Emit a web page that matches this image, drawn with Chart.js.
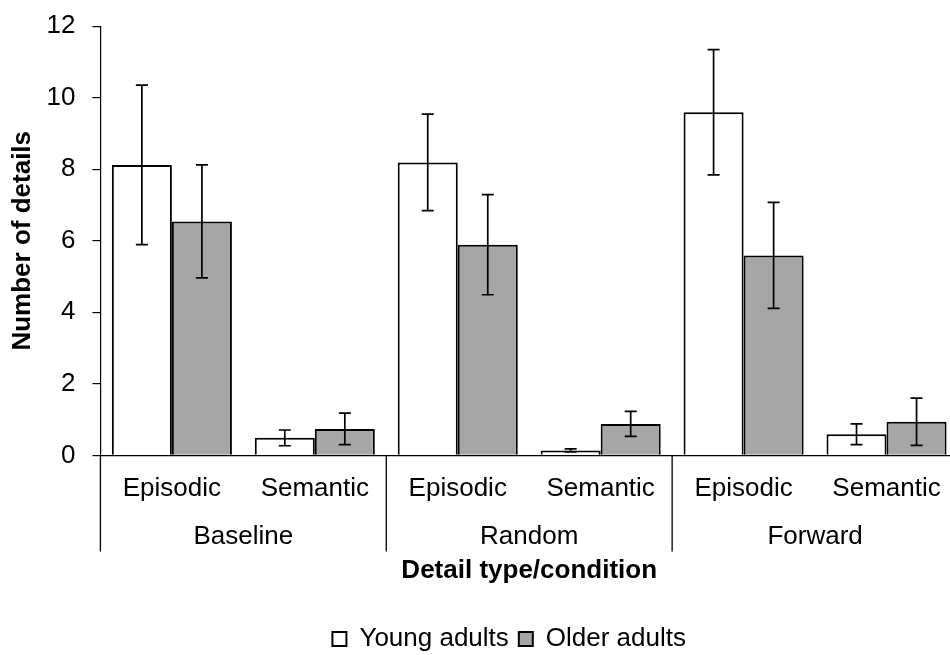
<!DOCTYPE html>
<html>
<head>
<meta charset="utf-8">
<script src="https://cdn.jsdelivr.net/npm/chart.js@4.4.1/dist/chart.umd.min.js"></script>
<style>
  html, body { margin: 0; padding: 0; overflow: hidden; background: #fff; }
  #wrap { width: 960px; height: 655px; }
</style>
</head>
<body>
<div id="wrap"><canvas id="myChart"></canvas></div>
<script>
const detailTypes = ["Episodic", "Semantic", "Episodic", "Semantic", "Episodic", "Semantic"];
const conditions = ["Baseline", "Random", "Forward"];
const youngMeans = [8.12, 0.49, 8.19, 0.14, 9.59, 0.59];
const youngErrors = [2.23, 0.22, 1.35, 0.04, 1.75, 0.29];
const olderMeans = [6.54, 0.74, 5.89, 0.88, 5.59, 0.94];
const olderErrors = [1.58, 0.44, 1.40, 0.35, 1.48, 0.66];
const yTicks = [0, 2, 4, 6, 8, 10, 12];

Chart.defaults.font.family = "'Liberation Sans', Arial, sans-serif";
Chart.defaults.font.size = 26;
Chart.defaults.color = "#000";

// error bars drawn from the y scale
const errorBars = {
  id: "errorBars",
  afterDatasetsDraw(chart) {
    const ctx = chart.ctx;
    const y = chart.scales.y;
    chart.data.datasets.forEach(function (ds, d) {
      chart.getDatasetMeta(d).data.forEach(function (bar, i) {
        const top = y.getPixelForValue(ds.data[i] + ds.errors[i]);
        const bottom = y.getPixelForValue(ds.data[i] - ds.errors[i]);
        ctx.save();
        ctx.strokeStyle = "#000";
        ctx.lineWidth = 1.7;
        ctx.beginPath();
        ctx.moveTo(bar.x, top); ctx.lineTo(bar.x, bottom);
        ctx.moveTo(bar.x - 6, top); ctx.lineTo(bar.x + 6, top);
        ctx.moveTo(bar.x - 6, bottom); ctx.lineTo(bar.x + 6, bottom);
        ctx.stroke();
        ctx.restore();
      });
    });
  }
};

// vertical lines between the condition groups, under the axis
const groupLines = {
  id: "groupLines",
  afterLayout(chart) {
    chart.legend.left -= 20;
    chart.legend.right -= 20;
  },
  afterDraw(chart) {
    const ctx = chart.ctx;
    const x = chart.scales.x;
    const step = x.getPixelForValue(1) - x.getPixelForValue(0);
    const perGroup = detailTypes.length / conditions.length;
    ctx.save();
    ctx.strokeStyle = "#000";
    ctx.lineWidth = 1.3;
    ctx.beginPath();
    for (let g = 0; g <= conditions.length; g++) {
      const px = x.getPixelForValue(g * perGroup) - step / 2;
      ctx.moveTo(px, chart.chartArea.bottom);
      ctx.lineTo(px, chart.chartArea.bottom + 96);
    }
    ctx.stroke();
    ctx.restore();
  }
};

new Chart("myChart", {
  type: "bar",
  data: {
    labels: detailTypes,
    datasets: [{
      label: "Young adults",
      data: youngMeans,
      errors: youngErrors,
      backgroundColor: "#ffffff",
      borderColor: "#000",
      borderWidth: 2
    }, {
      label: "Older adults",
      data: olderMeans,
      errors: olderErrors,
      backgroundColor: "#a6a6a6",
      borderColor: "#000",
      borderWidth: 2
    }]
  },
  options: {
    responsive: true,
    maintainAspectRatio: false,
    animation: false,
    layout: { padding: { top: 26, left: 0, right: 2, bottom: -7 } },
    datasets: { bar: { categoryPercentage: 0.84, barPercentage: 1.0 } },
    plugins: {
      legend: {
        position: "bottom",
        fullSize: false,
        labels: { boxWidth: 14, boxHeight: 14, padding: 10, font: { size: 26 } }
      },
      tooltip: { enabled: false }
    },
    scales: {
      x: {
        grid: { display: false, drawTicks: false },
        border: { display: true, color: "#000", width: 1.2 },
        ticks: { padding: 18, maxRotation: 0, autoSkip: false }
      },
      x2: {
        type: "category",
        position: "bottom",
        labels: conditions,
        offset: true,
        weight: 1,
        grid: { display: false, drawTicks: false },
        border: { display: false },
        ticks: { padding: -1, maxRotation: 0 },
        title: {
          display: true,
          text: "Detail type/condition",
          font: { size: 26, weight: "bold" },
          padding: { top: 3, bottom: 30 }
        }
      },
      y: {
        min: 0,
        max: 12,
        afterBuildTicks(scale) { scale.ticks = yTicks.map(v => ({ value: v })); },
        grid: { drawOnChartArea: false, tickLength: 8, color: "#000", lineWidth: 1.2 },
        border: { display: true, color: "#000", width: 1.2 },
        ticks: { padding: 17, font: { size: 26, lineHeight: 0.7 } },
        title: {
          display: true,
          text: "Number of details",
          font: { size: 26, weight: "bold", lineHeight: 0.5 },
          padding: { top: 16.5, bottom: 0 }
        }
      }
    }
  },
  plugins: [errorBars, groupLines]
});
</script>
</body>
</html>
